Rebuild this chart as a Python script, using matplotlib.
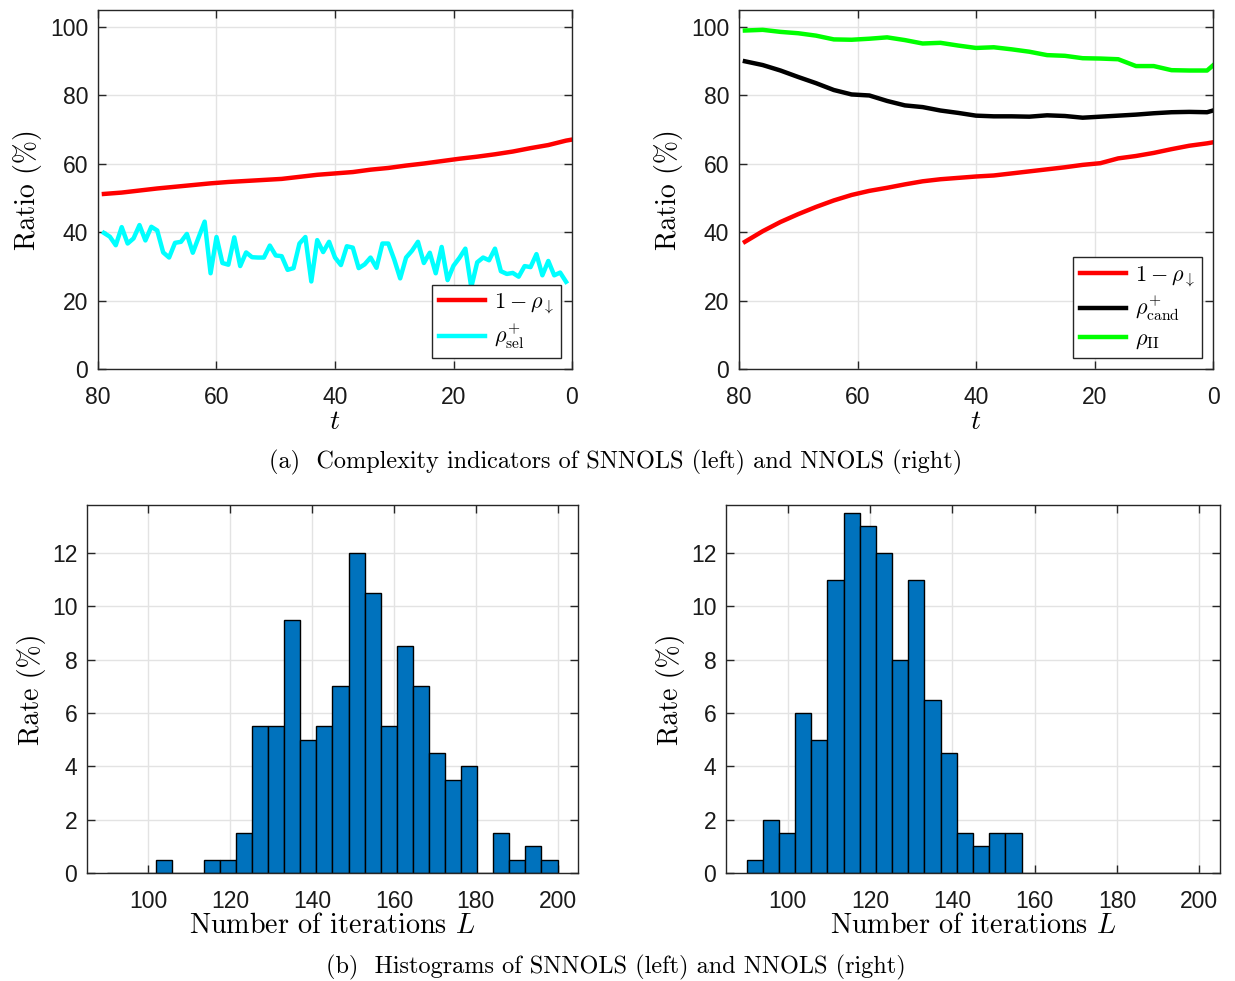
import numpy as np
import matplotlib
matplotlib.use("Agg")
import matplotlib.pyplot as plt

plt.rcParams['mathtext.fontset'] = 'cm'
plt.rcParams['font.family'] = ['Liberation Sans', 'DejaVu Sans']
plt.rcParams['axes.unicode_minus'] = False

# ---- (a) complexity indicators, t counts down from 79 ----
t_sel = list(range(79, 0, -1))
rho_sel = [39.8, 38.7, 36.2, 41.5, 36.7, 38.2, 42.1, 37.6, 41.6, 40.5,
           34.1, 32.6, 36.9, 37.2, 39.5, 34.0, 38.6, 43.1, 28.0, 38.6,
           31.0, 30.5, 38.5, 30.1, 34.1, 32.7, 32.6, 32.6, 36.1, 33.2,
           33.0, 29.0, 29.5, 36.7, 38.6, 25.6, 37.7, 34.2, 37.2, 32.6,
           30.4, 35.9, 35.5, 29.5, 30.6, 32.6, 29.6, 36.7, 36.7, 32.0,
           26.5, 32.6, 34.6, 37.2, 31.0, 34.0, 28.0, 35.7, 26.0, 30.2,
           32.5, 35.2, 23.9, 31.2, 32.6, 31.8, 35.2, 28.6, 27.8, 28.1,
           27.0, 30.1, 29.8, 33.6, 27.4, 31.6, 27.4, 28.2, 25.5]

t_smooth = [79, 76, 73, 70, 67, 64, 61, 58, 55, 52, 49, 46, 43, 40,
            37, 34, 31, 28, 25, 22, 19, 16, 13, 10, 7, 4, 1, 0]
snnols_down = [51.2, 51.6, 52.2, 52.8, 53.3, 53.8, 54.3, 54.7, 55.0, 55.3,
               55.6, 56.2, 56.8, 57.2, 57.6, 58.3, 58.8, 59.5, 60.1, 60.8,
               61.5, 62.1, 62.8, 63.6, 64.6, 65.5, 66.8, 67.1]
nnols_down = [37.2, 40.3, 43.0, 45.3, 47.4, 49.3, 50.9, 52.1, 53.0, 54.0,
              54.9, 55.5, 55.9, 56.3, 56.6, 57.2, 57.8, 58.4, 59.0, 59.7,
              60.2, 61.6, 62.3, 63.2, 64.3, 65.3, 66.0, 66.3]
rho_cand = [90.0, 88.9, 87.3, 85.4, 83.6, 81.6, 80.3, 80.0, 78.4, 77.1,
            76.6, 75.6, 74.9, 74.1, 73.9, 73.9, 73.8, 74.2, 74.0, 73.5,
            73.8, 74.1, 74.4, 74.8, 75.1, 75.2, 75.1, 75.6]
rho_II = [99.0, 99.2, 98.6, 98.2, 97.5, 96.4, 96.3, 96.6, 97.0, 96.2,
          95.2, 95.4, 94.6, 93.9, 94.1, 93.5, 92.8, 91.8, 91.6, 90.9,
          90.8, 90.6, 88.6, 88.6, 87.4, 87.3, 87.3, 88.8]

# ---- (b) histograms of iteration counts (28 bins on [90, 200]) ----
bin_lo, bin_hi, n_bins = 90, 200, 28
snnols_rate = [0, 0, 0, 0.5, 0, 0, 0.5, 0.5, 1.5, 5.5,
               5.5, 9.5, 5.0, 5.5, 7.0, 12.0, 10.5, 5.5, 8.5, 7.0,
               4.5, 3.5, 4.0, 0, 1.5, 0.5, 1.0, 0.5]
nnols_rate = [0.5, 2.0, 1.5, 6.0, 5.0, 11.0, 13.5, 13.0, 12.0, 8.0,
              11.0, 6.5, 4.5, 1.5, 1.0, 1.5, 1.5, 0, 0, 0,
              0, 0, 0, 0, 0, 0, 0, 0]

W, H = 1235, 981
fig = plt.figure(figsize=(W / 100, H / 100), dpi=100)

def px_axes(x0, x1, ytop, ybot):
    return fig.add_axes([x0 / W, 1 - ybot / H, (x1 - x0) / W, (ybot - ytop) / H])

def matlab_style(ax):
    ax.grid(True, color='#e3e3e3', linewidth=1.0)
    ax.set_axisbelow(True)
    for s in ax.spines.values():
        s.set_color('#262626')
        s.set_linewidth(1.0)
    ax.tick_params(direction='in', length=6, width=1, top=True, right=True,
                   labelsize=16.5, colors='#262626', labelcolor='#1a1a1a')
    ax.tick_params(axis='x', pad=12)
    ax.tick_params(axis='y', pad=7)

cm = dict(fontfamily='cmr10', fontsize=20)
lw = 3.2

ax1 = px_axes(98, 572, 10, 369)
ax1.plot(t_smooth, snnols_down, color='#ff0000', lw=lw, label=r'$1-\rho_{\downarrow}$')
ax1.plot(t_sel, rho_sel, color='#00ffff', lw=lw, label=r'$\rho^{+}_{\mathrm{sel}}$')

ax2 = px_axes(739, 1213, 10, 369)
ax2.plot(t_smooth, nnols_down, color='#ff0000', lw=lw, label=r'$1-\rho_{\downarrow}$')
ax2.plot(t_smooth, rho_cand, color='#000000', lw=lw, label=r'$\rho^{+}_{\mathrm{cand}}$')
ax2.plot(t_smooth, rho_II, color='#00ff00', lw=lw, label=r'$\rho_{\mathrm{II}}$')

for ax in (ax1, ax2):
    matlab_style(ax)
    ax.set_xlim(80, 0)
    ax.set_ylim(0, 105)
    ax.set_xticks([80, 60, 40, 20, 0])
    ax.set_yticks([0, 20, 40, 60, 80, 100])
    ax.set_ylabel('Ratio (%)', labelpad=6, **cm)
    ax.set_xlabel(r'$t$', fontsize=20, labelpad=0)
    leg = ax.legend(loc='lower right', fontsize=16, frameon=True, fancybox=False,
                    edgecolor='#262626', framealpha=1, handlelength=2.1,
                    handletextpad=0.4, borderpad=0.3, labelspacing=0.25,
                    borderaxespad=0.5)
    leg.get_frame().set_linewidth(1.0)

edges = np.linspace(bin_lo, bin_hi, n_bins + 1)
ax3 = px_axes(87, 578, 505, 873)
ax4 = px_axes(726, 1220, 505, 873)
for ax, rate in ((ax3, snnols_rate), (ax4, nnols_rate)):
    matlab_style(ax)
    ax.bar(edges[:-1], rate, width=np.diff(edges), align='edge',
           color='#0072bd', edgecolor='#000000', linewidth=1.0)
    ax.set_xlim(85, 205)
    ax.set_ylim(0, 13.8)
    ax.set_xticks([100, 120, 140, 160, 180, 200])
    ax.set_yticks([0, 2, 4, 6, 8, 10, 12])
    ax.set_ylabel('Rate (%)', labelpad=4, **cm)
    ax.set_xlabel(r'Number of iterations $L$', labelpad=0, fontfamily='cmr10',
                  fontsize=20.3)

fig.text(616 / W, 1 - 462 / H,
         '(a)  Complexity indicators of SNNOLS (left) and NNOLS (right)',
         ha='center', va='center', fontfamily='cmr10', fontsize=17.5)
fig.text(616 / W, 1 - 967 / H,
         '(b)  Histograms of SNNOLS (left) and NNOLS (right)',
         ha='center', va='center', fontfamily='cmr10', fontsize=17.5)

fig.savefig('out.png', dpi=100)
